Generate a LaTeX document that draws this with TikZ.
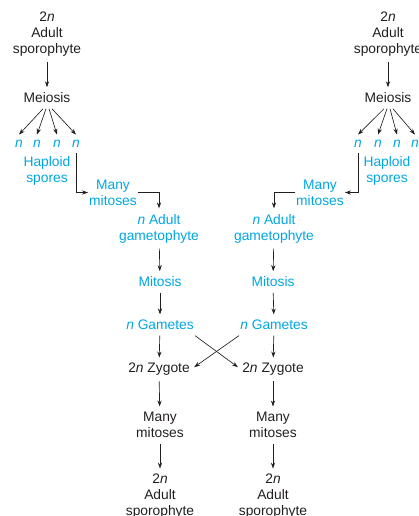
\documentclass[tikz,border=0pt]{standalone}
\usepackage{fontspec}
\setmainfont{Liberation Sans}
\usetikzlibrary{arrows.meta}
\definecolor{spore}{RGB}{0,166,228}
\definecolor{ink}{RGB}{35,31,32}

\begin{document}
\begin{tikzpicture}[x=1pt, y=-1pt, >={Stealth[length=6pt,width=4.2pt]},
  every node/.style={font=\fontsize{13.8}{16}\selectfont, align=center,
    inner xsep=1pt, inner ysep=5.5pt, text=ink},
  hap/.style={text=spore},
  link/.style={->, draw=ink, line width=0.65pt}]
  \clip (0,0) rectangle (418,516);
  % Left: sporophyte to gametophyte
  \node (spoL) at (47,34.5) {2\textit{n}\\Adult\\sporophyte};
  \node (meiL) at (47,98) {Meiosis};
  \node[hap] (nL1) at (19,144) {\textit{n}};
  \node[hap] (nL2) at (37,144) {\textit{n}};
  \node[hap] (nL3) at (57,144) {\textit{n}};
  \node[hap] (nL4) at (76,144) {\textit{n}};
  \node[hap] (hapL) at (47,171) {Haploid\\spores};
  \node[hap] (manyL) at (113,192.5) {Many\\mitoses};
  \node[hap] (gamL) at (159,228.5) {\textit{n} Adult\\gametophyte};
  % Right: sporophyte to gametophyte
  \node (spoR) at (388,34.5) {2\textit{n}\\Adult\\sporophyte};
  \node (meiR) at (388,98) {Meiosis};
  \node[hap] (nR1) at (358,144) {\textit{n}};
  \node[hap] (nR2) at (378,144) {\textit{n}};
  \node[hap] (nR3) at (397,144) {\textit{n}};
  \node[hap] (nR4) at (415,144) {\textit{n}};
  \node[hap] (hapR) at (387,171) {Haploid\\spores};
  \node[hap] (manyR) at (320,192.5) {Many\\mitoses};
  \node[hap] (gamR) at (274,228.5) {\textit{n} Adult\\gametophyte};
  % Lower columns
  \node[hap] (mitL) at (160,282) {Mitosis};
  \node[hap] (gametL) at (160,325) {\textit{n} Gametes};
  \node (zygL) at (159,369.5) {2\textit{n} Zygote};
  \node (many2L) at (160,425) {Many\\mitoses};
  \node (spo2L) at (160,496.5) {2\textit{n}\\Adult\\sporophyte};
  \node[hap] (mitR) at (273,282) {Mitosis};
  \node[hap] (gametR) at (274,325) {\textit{n} Gametes};
  \node (zygR) at (273,369.5) {2\textit{n} Zygote};
  \node (many2R) at (273,425) {Many\\mitoses};
  \node (spo2R) at (273,496.5) {2\textit{n}\\Adult\\sporophyte};
  % Arrows, left
  \draw[link] (spoL) -- (meiL);
  \draw[link] ([xshift=-4pt]meiL.south) -- (nL1.north);
  \draw[link] ([xshift=-1pt]meiL.south) -- (nL2.north);
  \draw[link] ([xshift=2pt]meiL.south) -- (nL3.north);
  \draw[link] ([xshift=5pt]meiL.south) -- (nL4.north);
  \draw[link] (nL4.south) |- (manyL.west);
  \draw[link] (manyL.east) -| (gamL.north);
  \draw[link] (gamL) -- (mitL);
  \draw[link] (mitL) -- (gametL);
  \draw[link] (gametL) -- (zygL);
  \draw[link] (zygL) -- (many2L);
  \draw[link] (many2L) -- (spo2L);
  % Arrows, right
  \draw[link] (spoR) -- (meiR);
  \draw[link] ([xshift=-4pt]meiR.south) -- (nR1.north);
  \draw[link] ([xshift=-1pt]meiR.south) -- (nR2.north);
  \draw[link] ([xshift=2pt]meiR.south) -- (nR3.north);
  \draw[link] ([xshift=5pt]meiR.south) -- (nR4.north);
  \draw[link] (nR1.south) |- (manyR.east);
  \draw[link] (manyR.west) -| (gamR.north);
  \draw[link] (gamR) -- (mitR);
  \draw[link] (mitR) -- (gametR);
  \draw[link] (gametR) -- (zygR);
  \draw[link] (zygR) -- (many2R);
  \draw[link] (many2R) -- (spo2R);
  % Crossing fertilisation
  \draw[link, shorten >=4pt] (gametL.south east) -- (zygR.west);
  \draw[link, shorten >=4pt] (gametR.south west) -- (zygL.east);
\end{tikzpicture}
\end{document}
